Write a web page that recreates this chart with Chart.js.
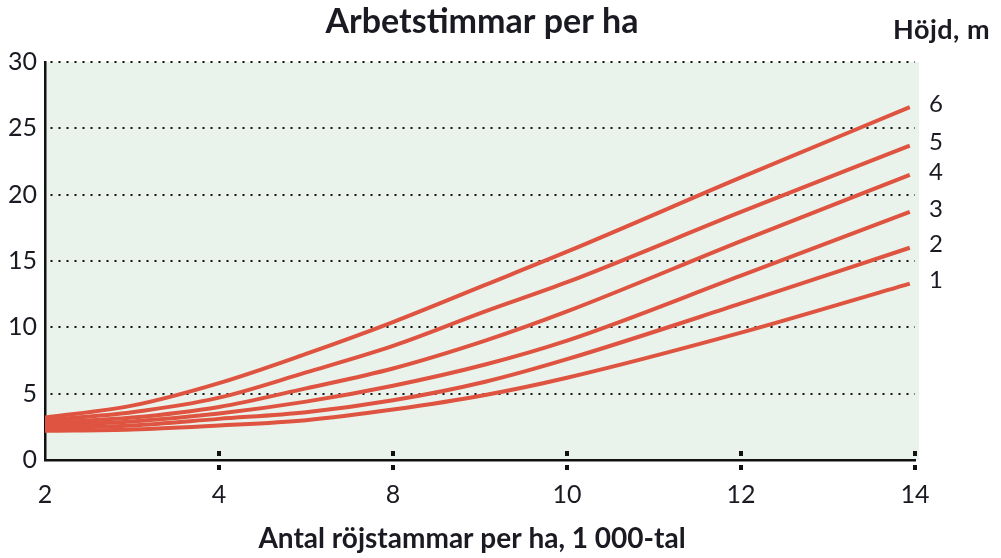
<!DOCTYPE html>
<html>
<head>
<meta charset="utf-8">
<script src="https://cdn.jsdelivr.net/npm/chart.js@4.4.1/dist/chart.umd.min.js"></script>
<style>
  html, body { margin: 0; padding: 0; background: #ffffff; }
  #wrap { width: 1001px; height: 558px; }
</style>
</head>
<body>
<div id="wrap"><canvas id="c" width="1001" height="558"></canvas></div>
<script>
// ---- data ----
const chartTitle = 'Arbetstimmar per ha';
const legendTitle = 'Höjd, m';
const xAxisTitle = 'Antal röjstammar per ha, 1 000-tal';
const xTickLabels = ['2', '4', '8', '10', '12', '14'];
const yTicks = [0, 5, 10, 15, 20, 25, 30];
const heightLabels = ['1', '2', '3', '4', '5', '6'];
// positions along the (evenly spaced) x tick index
const xIdx = [0, 0.5, 1, 1.5, 2, 2.53, 3, 4, 4.97];
const h1 = [2.2, 2.3, 2.6, 3.0, 3.8, 4.9, 6.2, 9.6, 13.3];
const h2 = [2.4, 2.6, 3.1, 3.6, 4.5, 5.9, 7.6, 11.8, 16.0];
const h3 = [2.6, 2.9, 3.5, 4.4, 5.6, 7.2, 9.0, 13.9, 18.7];
const h4 = [2.8, 3.2, 4.0, 5.4, 6.9, 9.0, 11.2, 16.5, 21.5];
const h5 = [3.0, 3.6, 4.7, 6.6, 8.6, 11.2, 13.4, 18.7, 23.7];
const h6 = [3.2, 4.1, 5.8, 8.0, 10.4, 13.2, 15.7, 21.3, 26.6];
const series = [h1, h2, h3, h4, h5, h6];

const lineColor = '#DE5440';
const fontFam = 'Lato, "Open Sans", sans-serif';

const datasets = series.map((s, i) => ({
  label: heightLabels[i],
  data: xIdx.map((x, j) => ({ x: x, y: s[j] })),
  borderColor: lineColor,
  borderWidth: 4,
  pointRadius: 0,
  fill: false,
  cubicInterpolationMode: 'monotone'
}));

const bgPlugin = {
  id: 'bg',
  beforeDraw(chart) {
    const a = chart.chartArea, ctx = chart.ctx;
    ctx.save();
    ctx.fillStyle = '#EAF3EB';
    ctx.fillRect(a.left, a.top, a.right - a.left + 4, a.bottom - a.top);
    ctx.restore();
  }
};

const decoPlugin = {
  id: 'deco',
  afterDraw(chart) {
    const ctx = chart.ctx, a = chart.chartArea, xs = chart.scales.x;
    ctx.save();
    // x tick marks above and below axis
    ctx.fillStyle = '#111';
    for (let i = 1; i < xTickLabels.length; i++) {
      const px = xs.getPixelForValue(i);
      ctx.fillRect(px - 2, a.bottom - 9, 4, 5);
      ctx.fillRect(px - 2, a.bottom + 5, 4, 5);
    }
    // series labels at line ends
    ctx.fillStyle = '#1a1a22';
    ctx.font = '24px ' + fontFam;
    ctx.textAlign = 'left';
    ctx.textBaseline = 'middle';
    chart.data.datasets.forEach((ds, i) => {
      const meta = chart.getDatasetMeta(i);
      const last = meta.data[meta.data.length - 1];
      ctx.fillText(ds.label, 929, last.y - 3);
    });
    // titles
    ctx.font = 'bold 34px ' + fontFam;
    ctx.textAlign = 'center';
    ctx.fillText(chartTitle, 482, 22);
    ctx.font = 'bold 27px ' + fontFam;
    ctx.textAlign = 'left';
    try { ctx.letterSpacing = '0.5px'; } catch (e) {}
    ctx.fillText(legendTitle, 893, 30);
    try { ctx.letterSpacing = '0px'; } catch (e) {}
    ctx.font = 'bold 28px ' + fontFam;
    ctx.textAlign = 'center';
    ctx.fillText(xAxisTitle, 472, 539);
    ctx.restore();
  }
};

new Chart(document.getElementById('c'), {
  type: 'line',
  data: { datasets: datasets },
  plugins: [bgPlugin, decoPlugin],
  options: {
    responsive: false,
    animation: false,
    layout: { padding: { left: 0, top: 62, right: 86, bottom: 0 } },
    plugins: { legend: { display: false }, tooltip: { enabled: false }, title: { display: false } },
    scales: {
      x: {
        type: 'linear',
        min: 0,
        max: xTickLabels.length - 1,
        afterFit(scale) { scale.height = 98; },
        afterBuildTicks(scale) { scale.ticks = xTickLabels.map((_, i) => ({ value: i })); },
        ticks: {
          autoSkip: false,
          maxRotation: 0,
          padding: 20,
          color: '#1a1a22',
          font: { family: fontFam, size: 25 },
          callback: (v) => xTickLabels[v]
        },
        grid: { display: true, drawOnChartArea: false, drawTicks: false },
        border: { display: true, color: '#111', width: 2.5 }
      },
      y: {
        min: 0,
        max: 30,
        afterFit(scale) { scale.width = 45; },
        afterBuildTicks(scale) { scale.ticks = yTicks.map(v => ({ value: v })); },
        ticks: {
          padding: 8,
          color: '#1a1a22',
          font: { family: fontFam, size: 25 }
        },
        grid: {
          drawTicks: false,
          color: (c) => c.tick && c.tick.value === 0 ? 'rgba(0,0,0,0)' : '#111',
          lineWidth: 2
        },
        border: { display: true, color: '#111', width: 2.5, dash: [2, 6], dashOffset: -4 }
      }
    }
  }
});
</script>
</body>
</html>
